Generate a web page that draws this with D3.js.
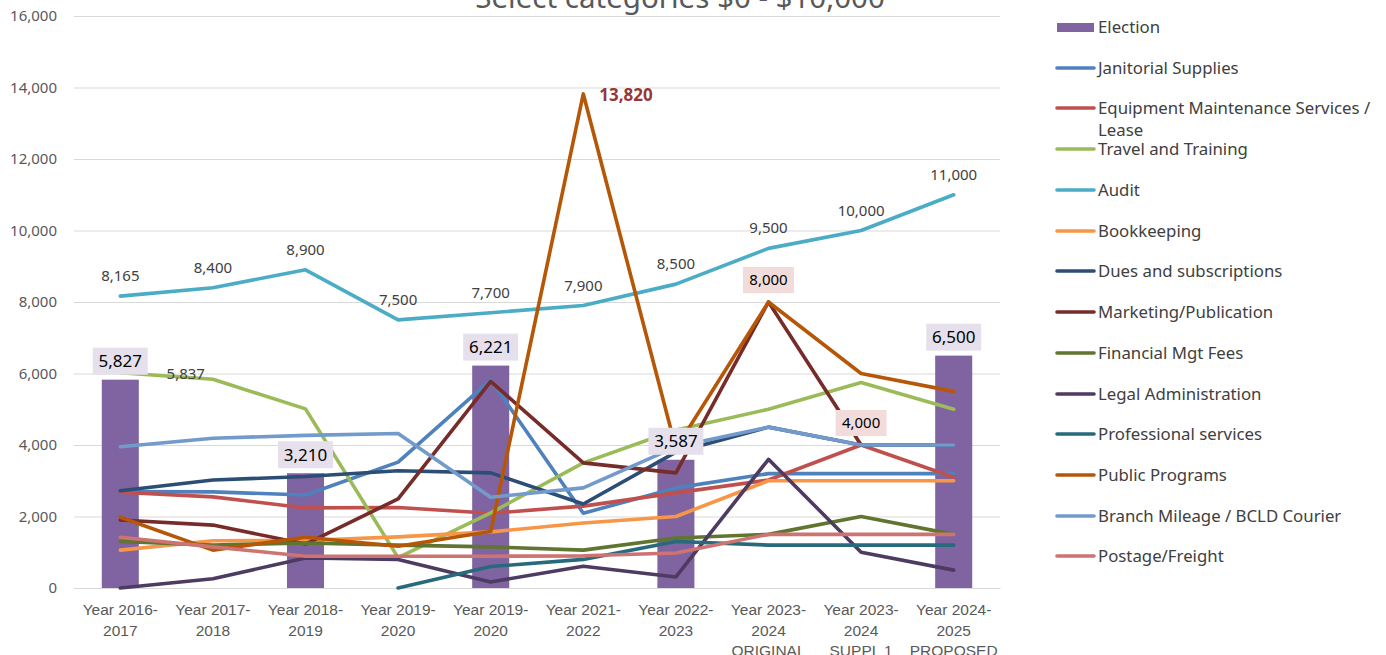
<!DOCTYPE html>
<html>
<head>
<meta charset="utf-8">
<script src="https://cdn.jsdelivr.net/npm/d3@7"></script>
<style>
  html, body { margin: 0; padding: 0; background: #fff; }
  svg { display: block; font-family: "Noto Sans", "DejaVu Sans", sans-serif; }
</style>
</head>
<body>
<svg id="chart" width="1386" height="655"></svg>
<script>
// ---------------- DATA ----------------
const title = "Select categories $0 - $10,000";
const categories = [
  ["Year 2016-", "2017"], ["Year 2017-", "2018"], ["Year 2018-", "2019"],
  ["Year 2019-", "2020"], ["Year 2019-", "2020"], ["Year 2021-", "2022"],
  ["Year 2022-", "2023"], ["Year 2023-", "2024", "ORIGINAL"],
  ["Year 2023-", "2024", "SUPPL 1"], ["Year 2024-", "2025", "PROPOSED"]
];
const yTicks = [0, 2000, 4000, 6000, 8000, 10000, 12000, 14000, 16000];

const election        = [5827, null, 3210, null, 6221, null, 3587, null, null, 6500];
const janitorial      = [2700, 2690, 2600, 3520, 5820, 2090, 2800, 3200, 3200, 3200];
const equipment       = [2680, 2550, 2240, 2250, 2090, 2290, 2660, 3020, 4000, 3100];
const travel          = [6020, 5837, 5010, 850, 2100, 3500, 4420, 5000, 5750, 5000];
const audit           = [8165, 8400, 8900, 7500, 7700, 7900, 8500, 9500, 10000, 11000];
const bookkeeping     = [1060, 1320, 1330, 1430, 1570, 1820, 2000, 3000, 3000, 3000];
const dues            = [2720, 3020, 3120, 3280, 3220, 2350, 3800, 4500, 4000, 4000];
const marketing       = [1900, 1760, 1230, 2490, 5780, 3500, 3220, 8000, 4000, null];
const financial       = [1300, 1200, 1260, 1200, 1150, 1060, 1400, 1500, 2000, 1500];
const legal           = [0, 260, 840, 800, 170, 610, 310, 3600, 1000, 500];
const professional    = [null, null, null, 0, 600, 800, 1300, 1200, 1200, 1200];
const publicPrograms  = [1980, 1060, 1420, 1170, 1580, 13820, 3900, 8000, 6000, 5500];
const branchMileage   = [3950, 4190, 4270, 4320, 2540, 2800, 3950, 4500, 4000, 4000];
const postage         = [1420, 1150, 890, 890, 890, 900, 980, 1500, 1500, 1500];

const lineSeries = [
  { name: "Janitorial Supplies", values: janitorial, color: "#4f81bd" },
  { name: "Equipment Maintenance Services / Lease", values: equipment, color: "#c0504d" },
  { name: "Travel and Training", values: travel, color: "#9bbb59" },
  { name: "Audit", values: audit, color: "#4bacc6" },
  { name: "Bookkeeping", values: bookkeeping, color: "#f79646" },
  { name: "Dues and subscriptions", values: dues, color: "#2c4d75" },
  { name: "Marketing/Publication", values: marketing, color: "#772c2a" },
  { name: "Financial Mgt Fees", values: financial, color: "#5f7530" },
  { name: "Legal Administration", values: legal, color: "#4d3b62" },
  { name: "Professional services", values: professional, color: "#276a7c" },
  { name: "Public Programs", values: publicPrograms, color: "#b65708" },
  { name: "Branch Mileage / BCLD Courier", values: branchMileage, color: "#729aca" },
  { name: "Postage/Freight", values: postage, color: "#cd7371" }
];
const barSeries = { name: "Election", values: election, color: "#8064a2" };

// ---------------- CHART ----------------
const svg = d3.select("#chart");
const plot = { left: 74, right: 1000, top: 16, bottom: 588 };

const x = d3.scaleBand().domain(d3.range(categories.length)).range([plot.left, plot.right]).padding(0);
const xBar = d3.scaleBand().domain(d3.range(categories.length)).range([plot.left, plot.right]).paddingInner(0.6).paddingOuter(0.3);
const cx = i => x(i) + x.bandwidth() / 2;
const y = d3.scaleLinear().domain([0, 16000]).range([plot.bottom, plot.top]);
const fmt = d3.format(",");

// gridlines
svg.append("g")
  .attr("transform", `translate(${plot.left},0)`)
  .call(d3.axisLeft(y).tickValues(yTicks).tickSize(-(plot.right - plot.left)).tickFormat(""))
  .call(g => g.select(".domain").remove())
  .call(g => g.selectAll("line").attr("stroke", "#d9d9d9").attr("stroke-width", 1));

// y axis labels
svg.append("g")
  .attr("transform", `translate(${plot.left},0)`)
  .call(d3.axisLeft(y).tickValues(yTicks).tickSize(0).tickPadding(17).tickFormat(fmt))
  .call(g => g.select(".domain").remove())
  .call(g => g.selectAll("text").attr("fill", "#595959").style("font-size", "15px").style("font-family", "'Noto Sans', sans-serif"));

// x axis labels
const xAxis = svg.append("g")
  .attr("transform", `translate(0,${plot.bottom})`)
  .call(d3.axisBottom(x).tickSize(0).tickFormat(""))
  .call(g => g.select(".domain").attr("stroke", "#d9d9d9"));
xAxis.selectAll(".tick").each(function(i) {
  const t = d3.select(this).append("text")
    .attr("fill", "#595959").attr("text-anchor", "middle")
    .style("font-size", "15.5px");
  categories[i].forEach((line, k) => {
    t.append("tspan").attr("x", 0).attr("y", 27 + k * 20.5).text(line);
  });
});

// title
svg.append("text")
  .attr("x", 680).attr("y", 8)
  .attr("text-anchor", "middle")
  .attr("fill", "#595959")
  .style("font-size", "29.5px")
  .text(title);

// bars
svg.append("g").selectAll("rect")
  .data(barSeries.values.map((v, i) => ({ v, i })).filter(d => d.v != null))
  .join("rect")
  .attr("x", d => xBar(d.i))
  .attr("width", xBar.bandwidth())
  .attr("y", d => y(d.v))
  .attr("height", d => y(0) - y(d.v))
  .attr("fill", barSeries.color);

// lines
const line = d3.line()
  .defined(d => d.v != null)
  .x(d => cx(d.i))
  .y(d => y(d.v));
svg.append("g").selectAll("path")
  .data(lineSeries)
  .join("path")
  .attr("d", s => line(s.values.map((v, i) => ({ v, i }))))
  .attr("fill", "none")
  .attr("stroke", s => s.color)
  .attr("stroke-width", 3.6)
  .attr("stroke-linejoin", "round")
  .attr("stroke-linecap", "round");

// ---------- data labels ----------
const labels = svg.append("g");

// Audit labels above points
audit.forEach((v, i) => {
  labels.append("text")
    .attr("x", cx(i)).attr("y", y(v) - 15)
    .attr("text-anchor", "middle")
    .attr("fill", "#404040")
    .style("font-size", "15px")
    .text(fmt(v));
});

// Travel label at 2017-18 (left of point)
labels.append("text")
  .attr("x", cx(1) - 8).attr("y", y(travel[1]) + 0)
  .attr("text-anchor", "end")
  .attr("fill", "#404040")
  .style("font-size", "15px")
  .text(fmt(travel[1]));

// Public Programs peak label
labels.append("text")
  .attr("x", cx(5) + 16).attr("y", y(publicPrograms[5]) + 7)
  .attr("fill", "#953735")
  .style("font-size", "17px")
  .style("font-weight", "bold")
  .text(fmt(publicPrograms[5]));

function boxedLabel(cxp, bottom, txt, size, bg, w, h) {
  labels.append("rect")
    .attr("x", cxp - w / 2).attr("y", bottom - h)
    .attr("width", w).attr("height", h)
    .attr("fill", bg);
  labels.append("text")
    .attr("x", cxp).attr("y", bottom - h / 2)
    .attr("dy", "0.36em")
    .attr("text-anchor", "middle")
    .attr("fill", "#000")
    .style("font-size", size + "px")
    .text(txt);
}

// Election bar labels
election.forEach((v, i) => {
  if (v == null) return;
  boxedLabel(cx(i), y(v) - 5, fmt(v), 17, "#e6e0ec", 55, 27);
});

// Marketing labels (pink boxes)
[7, 8].forEach(i => {
  boxedLabel(cx(i), y(marketing[i]) - 9, fmt(marketing[i]), 15, "#f2dcdb", 51, 26);
});

// ---------- legend ----------
const legend = svg.append("g").attr("transform", "translate(1056,0)");
const legendItems = [barSeries, ...lineSeries];
const rowY = [27, 68, 108, 149, 190, 231, 271, 312, 353, 394, 434, 475, 516, 556];
legendItems.forEach((s, k) => {
  const g = legend.append("g").attr("transform", `translate(0,${rowY[k]})`);
  if (k === 0) {
    g.append("rect").attr("x", 1).attr("y", -4).attr("width", 37).attr("height", 9).attr("fill", s.color);
  } else {
    g.append("line").attr("x1", 1).attr("x2", 38).attr("y1", 0).attr("y2", 0)
      .attr("stroke", s.color).attr("stroke-width", 3.6).attr("stroke-linecap", "round");
  }
  const t = g.append("text").attr("x", 42).attr("fill", "#404040").style("font-size", "16.8px");
  if (s.name === "Equipment Maintenance Services / Lease") {
    t.append("tspan").attr("x", 42).attr("y", 0).attr("dy", "0.35em").text("Equipment Maintenance Services /");
    t.append("tspan").attr("x", 42).attr("y", 22).attr("dy", "0.35em").text("Lease");
  } else {
    t.attr("y", 0).attr("dy", "0.35em").text(s.name);
  }
});
</script>
</body>
</html>
